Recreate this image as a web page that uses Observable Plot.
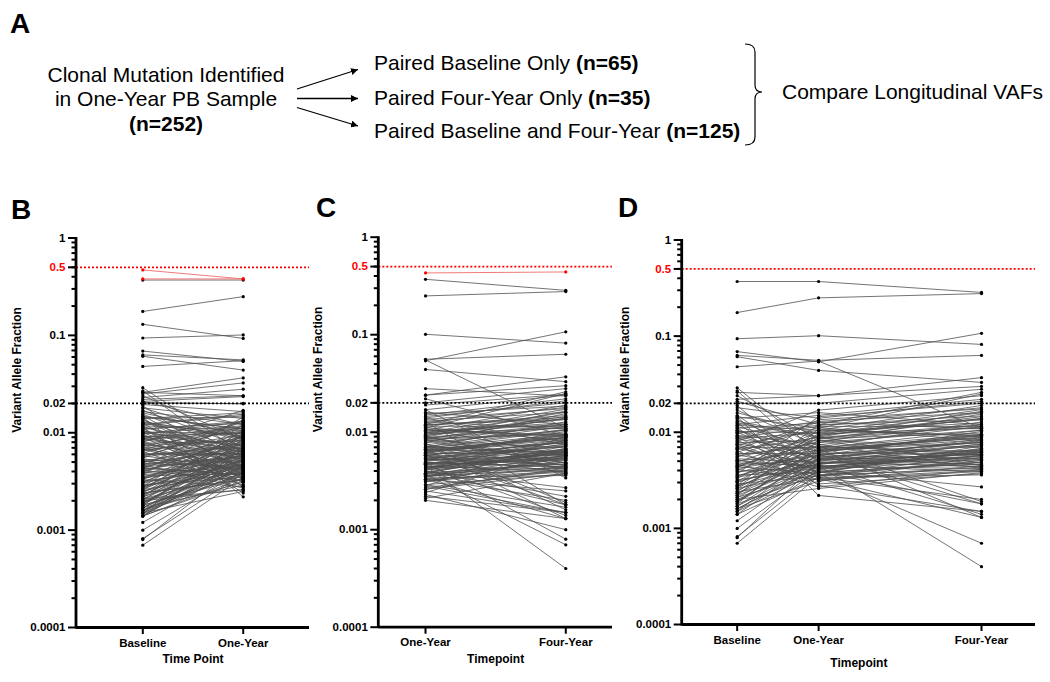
<!DOCTYPE html>
<html><head><meta charset="utf-8">
<script src="https://cdn.jsdelivr.net/npm/d3@7"></script>
<script src="https://cdn.jsdelivr.net/npm/@observablehq/plot@0.6"></script>
<style>
body{margin:0;background:#fff;}
#fig{position:relative;width:1050px;height:682px;overflow:hidden;font-family:"Liberation Sans",Arial,sans-serif;}
#fig > svg{position:absolute;max-width:none;}
</style></head><body><div id="fig"></div>
<script>
// ---------------- DATA ----------------
// Mutations paired at Baseline, One-Year and Four-Year (n=125): [baseline, oneYear, fourYear] VAF
const pairedBoth = [
[0.37,0.37,0.285],[0.176,0.25,0.277],[0.094,0.101,0.082],[0.069,0.054,0.107],[0.063,0.056,0.063],
[0.061,0.044,0.033],[0.048,0.055,0.011],[0.029,0.0062,0.0095],[0.027,0.0048,0.0062],[0.026,0.024,0.037],
[0.024,0.0085,0.014],[0.022,0.024,0.03],[0.021,0.012,0.026],[0.02,0.02,0.028],[0.019,0.0036,0.0041],
[0.018,0.014,0.021],[0.017,0.0072,0.0019],[0.016,0.0095,0.016],[0.015,0.0041,0.0064],[0.0145,0.011,0.025],
[0.014,0.016,0.012],[0.0135,0.0058,0.0078],[0.013,0.009,0.0045],[0.0125,0.0033,0.0013],[0.012,0.015,0.022],
[0.0118,0.0105,0.0093],[0.0115,0.0068,0.0105],[0.0112,0.0028,0.0015],[0.011,0.0125,0.018],[0.0105,0.0052,0.0058],
[0.0102,0.0098,0.0135],[0.01,0.0045,0.0039],[0.0097,0.013,0.016],[0.0093,0.0075,0.0042],[0.009,0.0031,0.0055],
[0.0088,0.0115,0.0115],[0.0085,0.0064,0.0088],[0.0082,0.0039,0.0018],[0.008,0.017,0.024],[0.0078,0.0082,0.0048],
[0.0076,0.0055,0.0072],[0.0074,0.0105,0.019],[0.0072,0.0035,0.0043],[0.007,0.0069,0.0095],[0.0068,0.0046,0.0014],
[0.0066,0.0088,0.012],[0.0064,0.0029,0.0037],[0.0062,0.0112,0.0082],[0.006,0.006,0.0065],[0.0058,0.0042,0.0068],
[0.0056,0.0078,0.0105],[0.0055,0.0135,0.0175],[0.0053,0.0049,0.0044],[0.0052,0.0034,0.002],[0.005,0.0065,0.0078],
[0.0049,0.0092,0.0145],[0.0048,0.0045,0.0004],[0.0047,0.0027,0.0041],[0.0046,0.0071,0.0062],[0.0045,0.0052,0.0085],
[0.0044,0.0037,0.0007],[0.0043,0.0102,0.0125],[0.0042,0.0058,0.0053],[0.0041,0.0032,0.0039],[0.004,0.0086,0.0098],
[0.0039,0.0044,0.0057],[0.0038,0.0062,0.0092],[0.0037,0.0145,0.02],[0.0036,0.0038,0.0047],[0.0035,0.0067,0.0013],
[0.0034,0.005,0.0073],[0.0033,0.0096,0.011],[0.0032,0.0043,0.0061],[0.0031,0.0078,0.0155],[0.003,0.0056,0.0046],
[0.0029,0.0035,0.0051],[0.0028,0.012,0.0135],[0.0028,0.0047,0.0083],[0.0027,0.0061,0.0059],[0.0026,0.0074,0.0115],
[0.0026,0.004,0.0027],[0.0025,0.0053,0.0075],[0.0024,0.0089,0.0165],[0.0024,0.0033,0.004],[0.0023,0.0066,0.0087],
[0.0022,0.0048,0.0054],[0.0022,0.0108,0.009],[0.0021,0.0038,0.0066],[0.0021,0.0057,0.0102],[0.002,0.0044,0.0042],
[0.002,0.0026,0.0038],[0.0019,0.007,0.0128],[0.0019,0.0051,0.0059],[0.0018,0.0036,0.0049],[0.0018,0.0083,0.0069],
[0.0017,0.0046,0.0076],[0.0017,0.0059,0.0018],[0.0016,0.0031,0.0045],[0.0016,0.0042,0.0056],[0.0015,0.0065,0.0093],
[0.0015,0.0039,0.0063],[0.0014,0.0054,0.0081],[0.0014,0.0034,0.0036],[0.0012,0.0047,0.0061],[0.001,0.0041,0.0052],
[0.00082,0.0038,0.0072],[0.0008,0.0049,0.0044],[0.0007,0.0035,0.0058],[0.0145,0.0022,0.0015],[0.0098,0.0118,0.0148],
[0.0125,0.0087,0.0113],[0.0105,0.0063,0.0084],[0.0092,0.0053,0.0046],[0.0086,0.0099,0.0172],[0.0075,0.0038,0.0049],
[0.0067,0.0128,0.0108],[0.0059,0.0072,0.0058],[0.0051,0.0043,0.0067],[0.0044,0.0081,0.0119],[0.0035,0.0058,0.0079],
[0.0031,0.0047,0.0052],[0.0027,0.0093,0.0138],[0.0023,0.0052,0.0064],[0.0019,0.0067,0.0089],[0.0016,0.0044,0.0057]
];
// Paired Baseline Only (n=65): [baseline, oneYear]
const baselineOnlyHighlighted = [[0.47,0.38],[0.38,0.38]];
const baselineOnly = [
[0.13,0.093],[0.026,0.0366],[0.025,0.0325],[0.023,0.028],[0.021,0.0235],[0.0195,0.0165],[0.018,0.0088],
[0.0165,0.0122],[0.0155,0.0064],[0.0148,0.0108],[0.0138,0.0043],[0.0128,0.0092],[0.0122,0.0155],[0.0116,0.0057],
[0.0108,0.0131],[0.0101,0.0073],[0.0096,0.0035],[0.0091,0.0101],[0.0087,0.0068],[0.0083,0.0112],[0.0079,0.0049],
[0.0073,0.0084],[0.0069,0.0031],[0.0065,0.0095],[0.0061,0.0061],[0.0057,0.0118],[0.0054,0.0041],[0.0051,0.0076],
[0.0048,0.0055],[0.0046,0.0134],[0.0043,0.0037],[0.0041,0.0069],[0.0039,0.0091],[0.0037,0.0047],[0.0034,0.0059],
[0.0033,0.0028],[0.0031,0.0083],[0.0029,0.0039],[0.0028,0.0064],[0.0026,0.0105],[0.0025,0.0045],[0.0024,0.0033],
[0.0023,0.0071],[0.0022,0.0053],[0.0021,0.0026],[0.002,0.0097],[0.0019,0.0042],[0.0019,0.0061],[0.0018,0.0034],
[0.0018,0.0079],[0.0017,0.0049],[0.0017,0.0029],[0.0016,0.0056],[0.0016,0.0038],[0.0015,0.0087],[0.0015,0.0044],
[0.0015,0.0025],[0.0014,0.0068],[0.0014,0.0051],[0.0014,0.0032],[0.0141,0.0145],[0.0112,0.0024],[0.0205,0.0198]
];
// Paired Four-Year Only (n=35): [oneYear, fourYear]
const fourYearOnlyHighlighted = [[0.43,0.44]];
const fourYearOnly = [
[0.028,0.0235],[0.022,0.0092],[0.019,0.0245],[0.017,0.0034],[0.0155,0.0185],[0.014,0.0075],[0.0128,0.0018],
[0.0118,0.0142],[0.0108,0.0058],[0.0099,0.0121],[0.0091,0.0048],[0.0084,0.0096],[0.0077,0.0016],[0.0071,0.0107],
[0.0066,0.0062],[0.0061,0.0088],[0.0057,0.0039],[0.0053,0.0071],[0.0049,0.0008],[0.0046,0.0053],[0.0043,0.0082],
[0.004,0.0022],[0.0037,0.0044],[0.0035,0.0068],[0.0033,0.0025],[0.0031,0.0056],[0.0029,0.0017],[0.0028,0.0091],
[0.0026,0.0043],[0.0025,0.0015],[0.0024,0.0065],[0.0023,0.001],[0.0021,0.0038],[0.002,0.0013]
];
const timepointsB = ["Baseline", "One-Year"];
const timepointsC = ["One-Year", "Four-Year"];
const timepointsD = ["Baseline", "One-Year", "Four-Year"];
const timeSpacingD = [0, 1, 3];
const labeledTicks = [1, 0.1, 0.02, 0.01, 0.001, 0.0001];
const redLabeledTicks = [0.5];
const upperReference = [0.5];
const clonalReference = [0.02];
const yDomain = [0.0001, 1];
const yTitle = "Variant Allele Fraction";
const xTitles = ["Time Point", "Timepoint", "Timepoint"];

// ---------------- HELPERS ----------------
const FONT = '"Liberation Sans", Arial, sans-serif';
const minorTicks = [1e-4, 1e-3, 1e-2, 1e-1].flatMap(p => [2,3,4,5,6,7,8,9].map(m => +(m * p).toPrecision(1)));
function toRows(list, times, prefix) {
  return list.flatMap((v, i) => times.map((t, j) => ({id: prefix + i, time: t, value: v[j]})));
}
const fig = document.getElementById("fig");
const TOPH = 225, H = 682 - TOPH;

function panel({rows, hiRows, x, left, width, marginLeft, marginRight, marginTop, marginBottom, xTicks, xTickFormat, xTitle, xTitleDy, yTitleX}) {
  const plot = Plot.plot({
    width, height: H, marginLeft, marginRight, marginTop, marginBottom,
    style: {fontFamily: FONT, fontSize: "11.5px", fontWeight: "bold", background: "transparent", overflow: "visible", color: "#000"},
    x, y: {type: "log", domain: yDomain},
    marks: [
      Plot.line(rows, {x: "time", y: "value", z: "id", stroke: "#505050", strokeWidth: 0.8}),
      Plot.line(hiRows, {x: "time", y: "value", z: "id", stroke: "#f07a7a", strokeWidth: 1}),
      Plot.ruleY(upperReference, {stroke: "#ff0000", strokeWidth: 1.7, strokeDasharray: "2,2"}),
      Plot.ruleY(clonalReference, {stroke: "#000", strokeWidth: 1.7, strokeDasharray: "2,2"}),
      Plot.dot(rows, {x: "time", y: "value", r: 1.6, fill: "#000", stroke: null}),
      Plot.dot(hiRows, {x: "time", y: "value", r: 1.6, fill: "#ff0000", stroke: null}),
      Plot.ruleY([yDomain[0]], {stroke: "#000", strokeWidth: 2.8}),
      Plot.axisY(minorTicks, {tickSize: 4.5, strokeWidth: 2, fill: "none", label: null}),
      Plot.axisY(labeledTicks.concat(redLabeledTicks), {tickSize: 8, strokeWidth: 2, fill: "none", label: null}),
      Plot.text(labeledTicks, {y: d => d, text: d => String(d), frameAnchor: "left", dx: -11, textAnchor: "end", fill: "#000", fontSize: 11.5, fontWeight: "bold"}),
      Plot.text(redLabeledTicks, {y: d => d, text: d => String(d), frameAnchor: "left", dx: -11, textAnchor: "end", fill: "#ff0000", fontSize: 11.5, fontWeight: "bold"}),
      Plot.axisX(xTicks, {tickSize: 7, tickPadding: 4, strokeWidth: 2, tickFormat: xTickFormat, label: null, fontSize: 11.5, fontWeight: "bold"}),
      Plot.text([xTitle], {text: d => d, frameAnchor: "bottom", dy: xTitleDy, fontSize: 12, fontWeight: "bold"}),
      Plot.text([yTitle], {text: d => d, frameAnchor: "left", dx: yTitleX - marginLeft, rotate: -90, fontSize: 12, fontWeight: "bold"})
    ]
  });
  const sx = plot.scale("x"), sy = plot.scale("y");
  d3.select(plot).append("line")
    .attr("x1", sx.range[0]).attr("x2", sx.range[0])
    .attr("y1", sy.range[0] + 1.4).attr("y2", sy.range[1] - 0.5)
    .attr("stroke", "#000").attr("stroke-width", 2.8);
  plot.style.left = left + "px";
  plot.style.top = TOPH + "px";
  fig.appendChild(plot);
}

// Panel B
panel({
  rows: toRows(pairedBoth.map(v => [v[0], v[1]]).concat(baselineOnly), timepointsB, "b"),
  hiRows: toRows(baselineOnlyHighlighted, timepointsB, "bh"),
  x: {type: "point", domain: timepointsB, padding: 0.66, round: false},
  left: 0, width: 310, marginLeft: 76, marginRight: 1, marginTop: 237.5 - TOPH, marginBottom: 682 - 627,
  xTicks: timepointsB, xTickFormat: d => d, xTitle: xTitles[0], xTitleDy: 35, yTitleX: 17
});
// Panel C
panel({
  rows: toRows(pairedBoth.map(v => [v[1], v[2]]).concat(fourYearOnly), timepointsC, "c"),
  hiRows: toRows(fourYearOnlyHighlighted, timepointsC, "ch"),
  x: {type: "point", domain: timepointsC, padding: 0.333, round: false},
  left: 310, width: 303, marginLeft: 68.3, marginRight: 1, marginTop: 236.7 - TOPH, marginBottom: 682 - 626.7,
  xTicks: timepointsC, xTickFormat: d => d, xTitle: xTitles[1], xTitleDy: 35.5, yTitleX: 8
});
// Panel D
panel({
  rows: toRows(pairedBoth, timeSpacingD, "d"),
  hiRows: [],
  x: {type: "linear", domain: [-0.675, 3.663]},
  left: 613, width: 437, marginLeft: 68.7, marginRight: 15, marginTop: 239.5 - TOPH, marginBottom: 682 - 624,
  xTicks: timeSpacingD, xTickFormat: d => timepointsD[timeSpacingD.indexOf(d)], xTitle: xTitles[2], xTitleDy: 42.5, yTitleX: 12
});

// Panel A diagram and panel letters
const ns = "http://www.w3.org/2000/svg";
const overlay = document.createElementNS(ns, "svg");
overlay.setAttribute("width", 1050); overlay.setAttribute("height", TOPH);
overlay.style.left = "0px"; overlay.style.top = "0px";
overlay.innerHTML = `
<defs><marker id="ah" viewBox="0 0 10 10" refX="10" refY="5" markerWidth="7" markerHeight="7" markerUnits="userSpaceOnUse" orient="auto">
<path d="M0,0 L10,5 L0,10 z" fill="#000"/></marker></defs>
<g font-family='${FONT}' fill="#000">
<text x="10" y="33" font-size="28" font-weight="bold">A</text>
<text x="166" y="81.5" font-size="21" text-anchor="middle">Clonal Mutation Identified</text>
<text x="166" y="106" font-size="21" text-anchor="middle">in One-Year PB Sample</text>
<text x="166" y="130.5" font-size="21" text-anchor="middle" font-weight="bold">(n=252)</text>
<line x1="297" y1="89" x2="358" y2="69.5" stroke="#000" stroke-width="1.3" marker-end="url(#ah)"/>
<line x1="297" y1="98.5" x2="358" y2="98.5" stroke="#000" stroke-width="1.3" marker-end="url(#ah)"/>
<line x1="297" y1="107.5" x2="358" y2="126" stroke="#000" stroke-width="1.3" marker-end="url(#ah)"/>
<text x="374" y="70" font-size="21">Paired Baseline Only <tspan font-weight="bold">(n=65)</tspan></text>
<text x="374" y="104.5" font-size="21">Paired Four-Year Only <tspan font-weight="bold">(n=35)</tspan></text>
<text x="374" y="138" font-size="21">Paired Baseline and Four-Year <tspan font-weight="bold">(n=125)</tspan></text>
<path d="M745,44 Q755,44 755,52 L755,85 Q755,92 762,92 Q755,92 755,99 L755,137 Q755,145 745,145" fill="none" stroke="#000" stroke-width="1.2"/>
<text x="782" y="98.5" font-size="21">Compare Longitudinal VAFs</text>
<text x="11" y="219" font-size="28" font-weight="bold">B</text>
<text x="316" y="217" font-size="28" font-weight="bold">C</text>
<text x="618" y="217" font-size="28" font-weight="bold">D</text>
</g>`;
fig.appendChild(overlay);
</script></body></html>
